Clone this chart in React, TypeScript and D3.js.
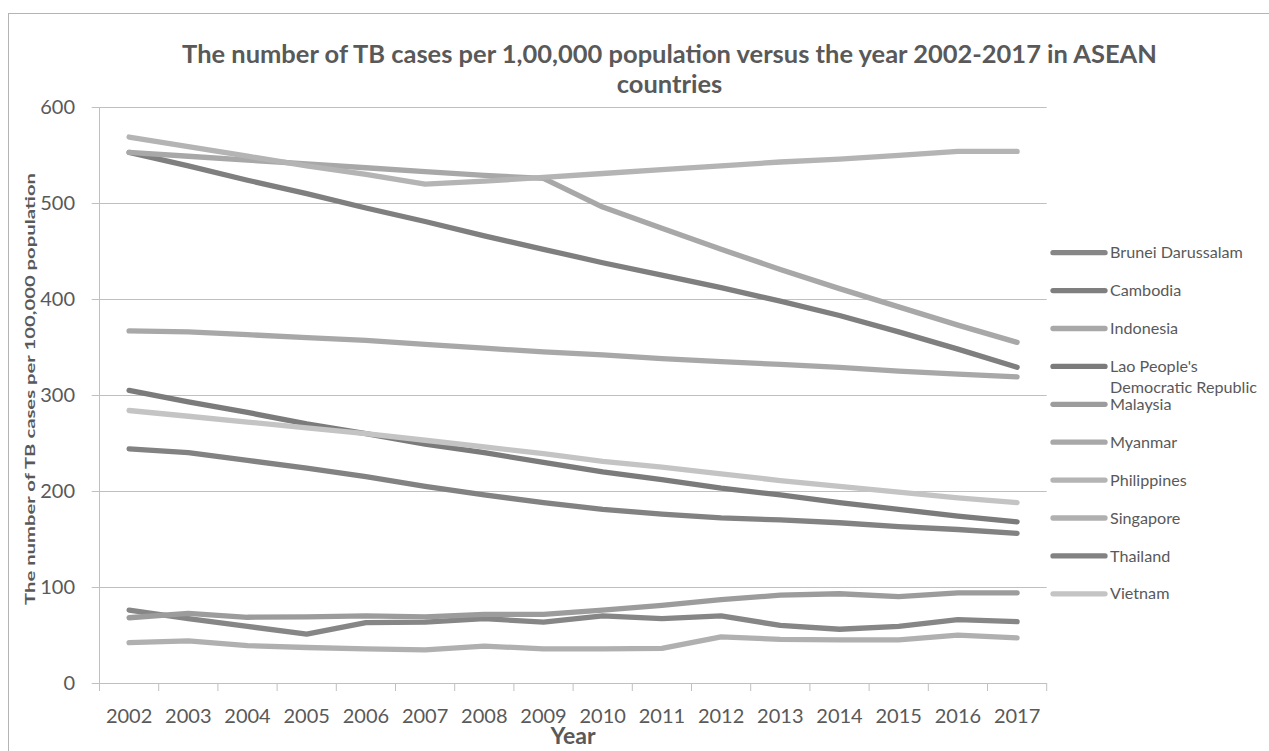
import React, { useLayoutEffect, useRef, useState } from "react";
import * as d3 from "d3";

const years = ["2002","2003","2004","2005","2006","2007","2008","2009","2010","2011","2012","2013","2014","2015","2016","2017"];
const yTicks = [0, 100, 200, 300, 400, 500, 600];

const countries = ["Brunei Darussalam","Cambodia","Indonesia","Lao People's Democratic Republic","Malaysia","Myanmar","Philippines","Singapore","Thailand","Vietnam"];
const colors = ["#868686","#7f7f7f","#a8a8a8","#7b7b7b","#9c9c9c","#a8a8a8","#b4b4b4","#b0b0b0","#828282","#c4c4c4"];

const brunei = [76, 67, 59, 51, 63, 63.5, 67, 63.5, 70, 67, 70, 60, 56, 59, 66, 64];
const cambodia = [553, 539, 524, 510, 495, 481, 466, 452, 438, 425, 412, 398, 383, 366, 348, 329];
const indonesia = [367, 366, 363, 360, 357, 353, 349, 345, 342, 338, 335, 332, 329, 325, 322, 319];
const lao = [305, 293, 282, 270, 260, 249, 240, 230, 220, 212, 203, 196, 188, 181, 174, 168];
const malaysia = [68, 72.5, 68.5, 69, 70, 69, 71.5, 71.5, 76, 81, 87, 91.5, 93, 90, 94, 94];
const myanmar = [553, 549, 545, 541, 537, 533, 529, 526, 496, 474, 452, 431, 411, 392, 373, 355];
const philippines = [569, 559, 549, 539, 530, 520, 523, 527, 531, 535, 539, 543, 546, 550, 554, 554];
const singapore = [42, 44, 39, 37, 35.5, 34.5, 38.5, 35.5, 35.5, 36, 48, 45.5, 45, 45, 50, 47];
const thailand = [244, 240, 232, 224, 215, 205, 196, 188, 181, 176, 172, 170, 167, 163, 160, 156];
const vietnam = [284, 278, 272, 266, 260, 253, 246, 239, 231, 225, 218, 211, 205, 199, 193, 188];

const series = [brunei, cambodia, indonesia, lao, malaysia, myanmar, philippines, singapore, thailand, vietnam];

const titleLine1 = "The number of TB cases per 1,00,000 population versus the year 2002-2017 in ASEAN";
const titleLine2 = "countries";
const yTitle = "The number of TB cases per 100,000 population";
const xTitle = "Year";

const FONT = "Lato, 'Open Sans', sans-serif";
const TXT = "#595959";
const GRID = "#c0c0c0";

export default function App() {
  const left = 99.5, right = 1046.7, top = 107.3, bottom = 683;
  const x = d3.scaleBand<string>().domain(years).range([left, right]).paddingInner(0).paddingOuter(0);
  const y = d3.scaleLinear().domain([0, 600]).range([bottom, top]);
  const cx = (yr: string) => (x(yr) as number) + x.bandwidth() / 2;
  const line = d3.line<number>().x((_, i) => cx(years[i])).y((v) => y(v));

  const legendX = 1053, legendY0 = 252.7, legendStep = 37.9;

  const titleRef = useRef<SVGTextElement>(null);
  const legRef = useRef<SVGTextElement>(null);
  const yearRef = useRef<SVGTextElement>(null);
  const [sizes, setSizes] = useState({ title: 22, legend: 15, year: 18 });
  const [fitted, setFitted] = useState(false);

  useLayoutEffect(() => {
    if (fitted) return;
    const fit = (el: SVGTextElement | null, cur: number, target: number) =>
      el ? (cur * target) / el.getComputedTextLength() : cur;
    setSizes({
      title: fit(titleRef.current, sizes.title, 975),
      legend: fit(legRef.current, sizes.legend, 133),
      year: fit(yearRef.current, sizes.year, 45),
    });
    setFitted(true);
  }, [fitted]);

  return (
    <svg width={1269} height={751} style={{ position: "absolute", left: 0, top: 0, background: "#fff" }} fontFamily={FONT}>
      <rect x={8.5} y={13.5} width={1400} height={900} fill="#fff" stroke="#b4b4b4" strokeWidth={1} />
      <text ref={titleRef} x={669.5} y={63} textAnchor="middle" fontSize={sizes.title} fontWeight="bold" fill={TXT}>
        {titleLine1}
      </text>
      <text x={669.5} y={93} textAnchor="middle" fontSize={sizes.title} fontWeight="bold" fill={TXT}>
        {titleLine2}
      </text>

      {yTicks.map((t) => (
        <g key={t}>
          <line x1={91.7} x2={right} y1={Math.round(y(t)) + 0.5} y2={Math.round(y(t)) + 0.5} stroke={GRID} strokeWidth={1} />
          <text x={75} y={y(t)} dy="0.35em" textAnchor="end" fontSize={20} fill={TXT}>{t}</text>
        </g>
      ))}
      <line x1={left} x2={left} y1={top} y2={bottom + 8} stroke={GRID} strokeWidth={1} />
      {d3.range(years.length + 1).map((i) => {
        const xx = left + i * x.step();
        return <line key={i} x1={xx} x2={xx} y1={bottom} y2={bottom + 8} stroke={GRID} strokeWidth={1} />;
      })}
      {years.map((yr) => (
        <text key={yr} x={cx(yr)} y={722.5} textAnchor="middle" fontSize={20} fill={TXT}>{yr}</text>
      ))}
      <text ref={yearRef} x={(left + right) / 2} y={744} textAnchor="middle" fontSize={sizes.year} fontWeight="bold" fill={TXT}>{xTitle}</text>
      <text transform={`translate(35,389) rotate(-90)`} textAnchor="middle" fontSize={13.5} fontWeight="bold" fill={TXT}
        textLength={432} lengthAdjust="spacingAndGlyphs">
        {yTitle}
      </text>

      {series.map((s, i) => (
        <path key={countries[i]} d={line(s) as string} fill="none" stroke={colors[i]} strokeWidth={5.3} strokeLinecap="round" strokeLinejoin="round" />
      ))}

      {countries.map((c, i) => {
        const ly = legendY0 + i * legendStep;
        const isLao = c.startsWith("Lao");
        return (
          <g key={c}>
            <line x1={legendX} x2={legendX + 52} y1={ly} y2={ly} stroke={colors[i]} strokeWidth={5.3} strokeLinecap="round" />
            {isLao ? (
              <text x={1110} y={ly} dy="0.35em" fontSize={sizes.legend} fill={TXT}>
                <tspan x={1110}>Lao People's</tspan>
                <tspan x={1110} dy={21.4}>Democratic Republic</tspan>
              </text>
            ) : (
              <text ref={i === 0 ? legRef : undefined} x={1110} y={ly} dy="0.35em" fontSize={sizes.legend} fill={TXT}>{c}</text>
            )}
          </g>
        );
      })}
    </svg>
  );
}
